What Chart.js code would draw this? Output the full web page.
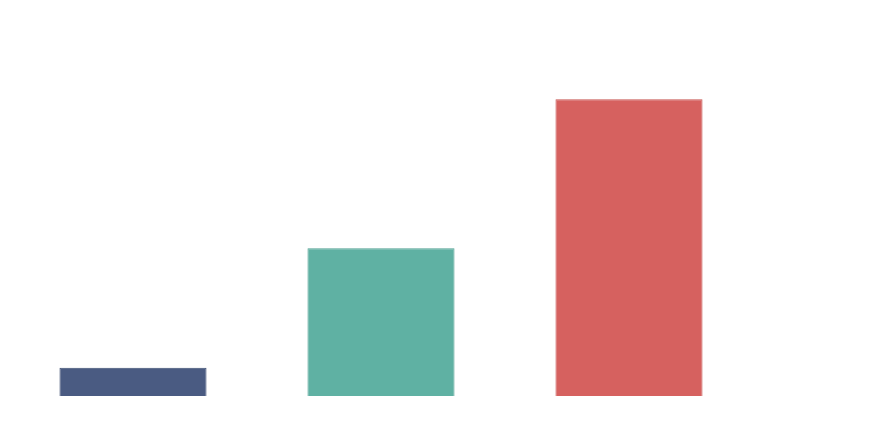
<!DOCTYPE html>
<html>
<head>
<meta charset="utf-8">
<script src="https://cdn.jsdelivr.net/npm/chart.js@4/dist/chart.umd.min.js"></script>
<style>
  body { margin: 0; background: #fff; }
  #wrap { position: relative; width: 882px; height: 442px; }
</style>
</head>
<body>
<div id="wrap"><canvas id="chart"></canvas></div>
<script>
const categories = ['A', 'B', 'C'];
const values = [1.9, 9.95, 20];
const barColors = ['#4a5b82', '#5fb1a3', '#d6615f'];
const borderColors = ['#3d4d72', '#4f9f91', '#c65350'];

const ctx = document.getElementById('chart').getContext('2d');

new Chart(ctx, {
  type: 'bar',
  data: {
    labels: categories,
    datasets: [{
      data: values,
      backgroundColor: barColors,
      borderColor: borderColors,
      borderWidth: 1,
      barPercentage: 0.593,
      categoryPercentage: 1,
    }],
  },
  options: {
    responsive: true,
    maintainAspectRatio: false,
    animation: false,
    layout: {
      padding: { left: 9, right: 129, top: 25, bottom: 46 },
    },
    plugins: {
      legend: { display: false },
      tooltip: { enabled: false },
    },
    scales: {
      x: { display: false },
      y: { display: false, min: 0, max: 25 },
    },
  },
});
</script>
</body>
</html>
